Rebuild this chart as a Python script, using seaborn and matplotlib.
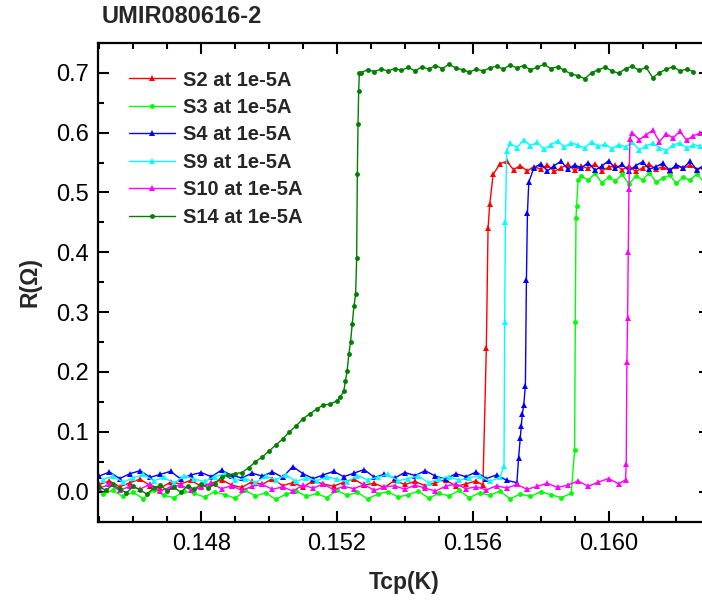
import matplotlib
matplotlib.use("Agg")
import matplotlib.pyplot as plt
from matplotlib.ticker import MultipleLocator, FormatStrFormatter
import seaborn as sns

# ---- data (T in K, R in Ohm) ----
s2_t = [0.1450, 0.1453, 0.1456, 0.1459, 0.1462, 0.1465, 0.1468, 0.1471, 0.1474, 0.1477,
        0.1480, 0.1483, 0.1486, 0.1489, 0.1492, 0.1495, 0.1498, 0.1501, 0.1504, 0.1507,
        0.1510, 0.1513, 0.1516, 0.1519, 0.1522, 0.1525, 0.1528, 0.1531, 0.1534, 0.1537,
        0.1540, 0.1543, 0.1546, 0.1549, 0.1552, 0.1555, 0.1558, 0.1561, 0.1563,
        0.15640, 0.15645, 0.15650, 0.15660,
        0.1568, 0.1570, 0.1572, 0.1574, 0.1576, 0.1578, 0.1580, 0.1582, 0.1584, 0.1586,
        0.1588, 0.1590, 0.1592, 0.1594, 0.1596, 0.1598, 0.1600, 0.1602, 0.1604, 0.1606,
        0.1608, 0.1610, 0.1612, 0.1614, 0.1616, 0.1618, 0.1620, 0.1622, 0.1624, 0.1626, 0.1628]
s2_r = [0.012, 0.018, 0.008, 0.015, 0.021, 0.010, 0.006, 0.016, 0.013, 0.019,
        0.009, 0.014, 0.020, 0.011, 0.007, 0.017, 0.012, 0.022, 0.010, 0.015,
        0.008, 0.018, 0.013, 0.009, 0.016, 0.021, 0.011, 0.014, 0.007, 0.019,
        0.012, 0.017, 0.010, 0.015, 0.020, 0.009, 0.013, 0.018, 0.011,
        0.240, 0.440, 0.480, 0.530,
        0.548, 0.552, 0.538, 0.545, 0.536, 0.543, 0.539, 0.546, 0.535, 0.541,
        0.547, 0.537, 0.544, 0.540, 0.548, 0.536, 0.542, 0.546, 0.538, 0.544,
        0.535, 0.541, 0.547, 0.539, 0.543, 0.536, 0.545, 0.540, 0.546, 0.538, 0.542]

s3_t = [0.1451, 0.1454, 0.1457, 0.1460, 0.1463, 0.1466, 0.1469, 0.1472, 0.1475, 0.1478,
        0.1481, 0.1484, 0.1487, 0.1490, 0.1493, 0.1496, 0.1499, 0.1502, 0.1505, 0.1508,
        0.1511, 0.1514, 0.1517, 0.1520, 0.1523, 0.1526, 0.1529, 0.1532, 0.1535, 0.1538,
        0.1541, 0.1544, 0.1547, 0.1550, 0.1553, 0.1556, 0.1559, 0.1562, 0.1565, 0.1568,
        0.1571, 0.1574, 0.1577, 0.1580, 0.1583, 0.1586, 0.1589,
        0.15900, 0.15902, 0.15904, 0.15906, 0.15910,
        0.1592, 0.1594, 0.1596, 0.1598, 0.1600, 0.1602, 0.1604, 0.1606, 0.1608, 0.1610,
        0.1612, 0.1614, 0.1616, 0.1618, 0.1620, 0.1622, 0.1624, 0.1626, 0.1628]
s3_r = [-0.004, 0.002, -0.008, -0.001, -0.012, 0.003, -0.006, -0.010, 0.001, -0.003,
        -0.009, 0.000, -0.005, -0.011, 0.002, -0.007, -0.002, -0.013, -0.004, 0.001,
        -0.008, -0.003, -0.010, 0.002, -0.006, -0.001, -0.012, -0.004, 0.000, -0.009,
        -0.005, 0.001, -0.011, -0.003, -0.007, 0.002, -0.010, -0.002, -0.006, 0.001,
        -0.012, -0.004, -0.008, 0.000, -0.005, -0.010, -0.003,
        0.070, 0.283, 0.458, 0.478, 0.520,
        0.528, 0.520, 0.532, 0.516, 0.525, 0.519, 0.530, 0.514, 0.527, 0.521,
        0.533, 0.517, 0.524, 0.529, 0.515, 0.526, 0.520, 0.531, 0.518]

s4_t = [0.1450, 0.1453, 0.1456, 0.1459, 0.1462, 0.1465, 0.1468, 0.1471, 0.1474, 0.1477,
        0.1480, 0.1483, 0.1486, 0.1489, 0.1492, 0.1495, 0.1498, 0.1501, 0.1504, 0.1507,
        0.1510, 0.1513, 0.1516, 0.1519, 0.1522, 0.1525, 0.1528, 0.1531, 0.1534, 0.1537,
        0.1540, 0.1543, 0.1546, 0.1549, 0.1552, 0.1555, 0.1558, 0.1561, 0.1564, 0.1567,
        0.1570, 0.1573,
        0.15735, 0.15740, 0.15743, 0.15746, 0.15750, 0.15755, 0.15758, 0.15761, 0.15765,
        0.1578, 0.1580, 0.1582, 0.1584, 0.1586, 0.1588, 0.1590, 0.1592, 0.1594, 0.1596,
        0.1598, 0.1600, 0.1602, 0.1604, 0.1606, 0.1608, 0.1610, 0.1612, 0.1614, 0.1616,
        0.1618, 0.1620, 0.1622, 0.1624, 0.1626, 0.1628]
s4_r = [0.026, 0.033, 0.022, 0.030, 0.035, 0.024, 0.029, 0.034, 0.021, 0.028,
        0.032, 0.025, 0.036, 0.027, 0.023, 0.031, 0.026, 0.033, 0.024, 0.042,
        0.030, 0.022, 0.028, 0.034, 0.025, 0.031, 0.037, 0.024, 0.029, 0.023,
        0.032, 0.027, 0.035, 0.026, 0.021, 0.030, 0.025, 0.033, 0.022, 0.028,
        0.019, 0.015,
        0.057, 0.090, 0.110, 0.130, 0.144, 0.177, 0.353, 0.465, 0.517,
        0.541, 0.548, 0.536, 0.545, 0.552, 0.539, 0.546, 0.541, 0.550, 0.537,
        0.544, 0.553, 0.540, 0.547, 0.536, 0.545, 0.551, 0.539, 0.543, 0.549,
        0.537, 0.546, 0.541, 0.552, 0.538, 0.545]

s9_t = [0.1451, 0.1454, 0.1457, 0.1460, 0.1463, 0.1466, 0.1469, 0.1472, 0.1475, 0.1478,
        0.1481, 0.1484, 0.1487, 0.1490, 0.1493, 0.1496, 0.1499, 0.1502, 0.1505, 0.1508,
        0.1511, 0.1514, 0.1517, 0.1520, 0.1523, 0.1526, 0.1529, 0.1532, 0.1535, 0.1538,
        0.1541, 0.1544, 0.1547, 0.1550, 0.1553, 0.1556, 0.1559, 0.1562, 0.1565, 0.1568,
        0.15692, 0.15694, 0.15696, 0.15700,
        0.1571, 0.1573, 0.1575, 0.1577, 0.1579, 0.1581, 0.1583, 0.1585, 0.1587, 0.1589,
        0.1591, 0.1593, 0.1595, 0.1597, 0.1599, 0.1601, 0.1603, 0.1605, 0.1607, 0.1609,
        0.1611, 0.1613, 0.1615, 0.1617, 0.1619, 0.1621, 0.1623, 0.1625, 0.1627]
s9_r = [0.020, 0.026, 0.016, 0.023, 0.029, 0.018, 0.024, 0.014, 0.027, 0.021,
        0.017, 0.025, 0.030, 0.019, 0.022, 0.015, 0.026, 0.020, 0.028, 0.017,
        0.023, 0.018, 0.025, 0.021, 0.016, 0.027, 0.020, 0.024, 0.029, 0.018,
        0.022, 0.026, 0.015, 0.021, 0.025, 0.019, 0.023, 0.027, 0.017, 0.024,
        0.043, 0.283, 0.450, 0.570,
        0.582, 0.575, 0.588, 0.578, 0.584, 0.572, 0.580, 0.586, 0.576, 0.583,
        0.579, 0.574, 0.585, 0.577, 0.581, 0.573, 0.580, 0.576, 0.584, 0.571,
        0.578, 0.582, 0.575, 0.570, 0.579, 0.583, 0.574, 0.580, 0.577]

s10_t = [0.1450, 0.1453, 0.1456, 0.1459, 0.1462, 0.1465, 0.1468, 0.1471, 0.1474, 0.1477,
         0.1480, 0.1483, 0.1486, 0.1489, 0.1492, 0.1495, 0.1498, 0.1501, 0.1504, 0.1507,
         0.1510, 0.1513, 0.1516, 0.1519, 0.1522, 0.1525, 0.1528, 0.1531, 0.1534, 0.1537,
         0.1540, 0.1543, 0.1546, 0.1549, 0.1552, 0.1555, 0.1558, 0.1561, 0.1564, 0.1567,
         0.1570, 0.1573, 0.1576, 0.1579, 0.1582, 0.1585, 0.1588, 0.1591, 0.1594, 0.1597,
         0.1600, 0.1603, 0.1605,
         0.16052, 0.16054, 0.16056, 0.16058, 0.16060, 0.16063,
         0.1607, 0.1609, 0.1611, 0.1613, 0.1615, 0.1617, 0.1619, 0.1621, 0.1623, 0.1625, 0.1627]
s10_r = [0.006, 0.012, 0.002, 0.009, 0.004, 0.013, 0.001, 0.008, 0.011, 0.003,
         0.007, 0.014, 0.005, 0.010, 0.002, 0.009, 0.012, 0.004, 0.008, 0.001,
         0.011, 0.006, 0.013, 0.003, 0.009, 0.005, 0.012, 0.002, 0.008, 0.010,
         0.004, 0.011, 0.006, 0.001, 0.009, 0.013, 0.005, 0.008, 0.003, 0.010,
         0.006, 0.012, 0.004, 0.009, 0.014, 0.007, 0.011, 0.018, 0.009, 0.016,
         0.022, 0.013, 0.020,
         0.047, 0.217, 0.290, 0.400, 0.505, 0.590,
         0.600, 0.588, 0.596, 0.604, 0.585, 0.598, 0.591, 0.602, 0.587, 0.595, 0.599]

s14_t = [0.1450, 0.1452, 0.1454, 0.1456, 0.1458, 0.1460, 0.1462, 0.1464, 0.1466, 0.1468,
         0.1470, 0.1472, 0.1474, 0.1476, 0.1478, 0.1480, 0.1482, 0.1484,
         0.1486, 0.1488, 0.1490, 0.1492, 0.1494, 0.1496, 0.1498, 0.1500, 0.1502, 0.1504,
         0.1506, 0.1508, 0.1510, 0.1512, 0.1514, 0.1516, 0.1518, 0.1520, 0.1521, 0.1522,
         0.15225, 0.15230, 0.15235, 0.15240, 0.15245, 0.15250, 0.15255, 0.15258, 0.15260,
         0.15262, 0.15264, 0.15266,
         0.1527, 0.1529, 0.1531, 0.1533, 0.1535, 0.1537, 0.1539, 0.1541, 0.1543, 0.1545,
         0.1547, 0.1549, 0.1551, 0.1553, 0.1555, 0.1557, 0.1559, 0.1561, 0.1563, 0.1565,
         0.1567, 0.1569, 0.1571, 0.1573, 0.1575, 0.1577, 0.1579, 0.1581, 0.1583, 0.1585,
         0.1587, 0.1589, 0.1591, 0.1593, 0.1595, 0.1597, 0.1599, 0.1601, 0.1603, 0.1605,
         0.1607, 0.1609, 0.1611, 0.1613, 0.1615, 0.1617, 0.1619, 0.1621, 0.1623, 0.1625]
s14_r = [0.008, 0.002, 0.012, 0.004, -0.002, 0.009, 0.003, -0.004, 0.006, 0.011,
         0.001, 0.007, -0.001, 0.010, 0.004, 0.013, 0.006, 0.012,
         0.025, 0.028, 0.030, 0.032, 0.040, 0.050, 0.058, 0.068, 0.078, 0.088,
         0.100, 0.110, 0.122, 0.130, 0.138, 0.145, 0.146, 0.152, 0.158, 0.168,
         0.185, 0.202, 0.230, 0.250, 0.280, 0.310, 0.330, 0.390, 0.530,
         0.614, 0.670, 0.699,
         0.700, 0.705, 0.702, 0.706, 0.703, 0.707, 0.704, 0.709, 0.703, 0.710,
         0.706, 0.712, 0.707, 0.714, 0.708, 0.705, 0.701, 0.706, 0.703, 0.708,
         0.711, 0.706, 0.713, 0.708, 0.712, 0.705, 0.709, 0.714, 0.707, 0.710,
         0.704, 0.698, 0.695, 0.690, 0.700, 0.705, 0.709, 0.703, 0.699, 0.707,
         0.711, 0.704, 0.709, 0.692, 0.700, 0.706, 0.710, 0.703, 0.706, 0.702]

labels = ["S2 at 1e-5A", "S3 at 1e-5A", "S4 at 1e-5A", "S9 at 1e-5A", "S10 at 1e-5A", "S14 at 1e-5A"]
colors = ["#ff0000", "#00ff00", "#0000ff", "#00ffff", "#ff00ff", "#007f00"]
markers = ["^", "o", "^", "^", "^", "o"]

sns.set_style("ticks")
plt.rcParams["font.family"] = ["Liberation Sans", "DejaVu Sans"]
plt.rcParams["xtick.direction"] = "in"
plt.rcParams["ytick.direction"] = "in"

fig = plt.figure(figsize=(7.02, 6.03), dpi=100)
ax = fig.add_axes([0.140, 0.135, 0.872, 0.794])

series = [(s2_t, s2_r), (s3_t, s3_r), (s4_t, s4_r), (s9_t, s9_r), (s10_t, s10_r), (s14_t, s14_r)]
for (t, r), lab, c, m in zip(series, labels, colors, markers):
    ms = 4.5 if m == "^" else 3.5
    sns.lineplot(x=t, y=r, ax=ax, color=c, marker=m, markersize=ms, markeredgewidth=0,
                 linewidth=1.0, label=lab, sort=False, estimator=None)

ax.set_xlim(0.14497, 0.1630)
ax.set_ylim(-0.05, 0.75)
ax.xaxis.set_major_locator(MultipleLocator(0.004))
ax.xaxis.set_minor_locator(MultipleLocator(0.001))
ax.xaxis.set_major_formatter(FormatStrFormatter("%.3f"))
ax.yaxis.set_major_locator(MultipleLocator(0.1))
ax.yaxis.set_minor_locator(MultipleLocator(0.05))
ax.yaxis.set_major_formatter(FormatStrFormatter("%.1f"))

ax.tick_params(which="both", top=True, right=True, width=1.5, labelsize=17, colors="black")
ax.tick_params(which="major", length=8)
ax.tick_params(which="minor", length=4.5)
ax.tick_params(axis="x", which="major", pad=8)
ax.tick_params(axis="y", which="major", pad=7)
for sp in ax.spines.values():
    sp.set_linewidth(1.6)
    sp.set_color("black")

ax.set_xlabel("Tcp(K)", fontsize=16.5, fontweight="bold", labelpad=12)
ax.set_ylabel("R(\u03a9)", fontsize=16.5, fontweight="bold", labelpad=10)
fig.text(0.145, 0.972, "UMIR080616-2", fontsize=17, fontweight="bold", ha="left", va="center")

ax.legend(loc="upper left", bbox_to_anchor=(0.02, 0.98), frameon=False, numpoints=1,
          handlelength=2.3, handletextpad=0.4, labelspacing=0.42,
          prop={"size": 14.5, "weight": "bold"})

fig.savefig("out.png", dpi=100)
